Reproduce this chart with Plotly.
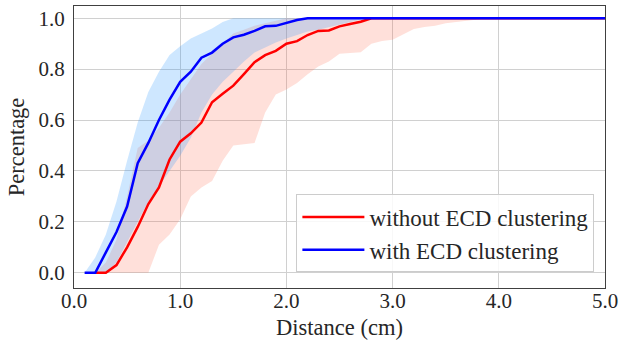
import plotly.graph_objects as go

# distances (cm)
dist_blue = [0.1, 0.2, 0.3, 0.4, 0.5, 0.6, 0.7, 0.8, 0.9, 1.0,
             1.1, 1.2, 1.3, 1.4, 1.5, 1.6, 1.7, 1.8, 1.9, 2.0,
             2.1, 2.2, 2.3, 2.4, 2.5, 2.6, 2.7, 2.8, 2.9, 3.0,
             3.1, 3.2, 3.3, 3.4, 3.5, 3.6, 3.7, 3.8, 3.9, 4.0, 5.0]
dist_red = [0.2, 0.3, 0.4, 0.5, 0.6, 0.7, 0.8, 0.9, 1.0,
            1.1, 1.2, 1.3, 1.4, 1.5, 1.6, 1.7, 1.8, 1.9, 2.0,
            2.1, 2.2, 2.3, 2.4, 2.5, 2.6, 2.7, 2.8, 2.9, 3.0,
            3.1, 3.2, 3.3, 3.4, 3.5, 3.6, 3.7, 3.8, 3.9, 4.0, 5.0]

# with ECD clustering
blue_mean = [0.0, 0.0, 0.08, 0.16, 0.26, 0.43, 0.51, 0.60, 0.68, 0.75,
             0.79, 0.845, 0.865, 0.90, 0.925, 0.935, 0.95, 0.968, 0.97, 0.983,
             0.993, 1.0, 1.0, 1.0, 1.0, 1.0, 1.0, 1.0, 1.0, 1.0,
             1.0, 1.0, 1.0, 1.0, 1.0, 1.0, 1.0, 1.0, 1.0, 1.0, 1.0]
blue_upper = [0.0, 0.06, 0.15, 0.28, 0.44, 0.59, 0.71, 0.79, 0.855, 0.89,
              0.92, 0.94, 0.96, 0.985, 1.0, 1.0, 1.0, 1.0, 1.0, 1.0,
              1.0, 1.0, 1.0, 1.0, 1.0, 1.0, 1.0, 1.0, 1.0, 1.0,
              1.0, 1.0, 1.0, 1.0, 1.0, 1.0, 1.0, 1.0, 1.0, 1.0, 1.0]
blue_lower = [0.0, 0.0, 0.0, 0.04, 0.12, 0.20, 0.28, 0.34, 0.40, 0.46,
              0.53, 0.63, 0.70, 0.75, 0.79, 0.83, 0.865, 0.885, 0.905, 0.92,
              0.935, 0.948, 0.955, 0.965, 0.975, 0.985, 0.995, 1.0, 1.0, 1.0,
              1.0, 1.0, 1.0, 1.0, 1.0, 1.0, 1.0, 1.0, 1.0, 1.0, 1.0]

# without ECD clustering
red_mean = [0.0, 0.0, 0.03, 0.10, 0.18, 0.27, 0.335, 0.445, 0.515,
            0.548, 0.59, 0.67, 0.703, 0.735, 0.78, 0.827, 0.855, 0.872, 0.90,
            0.91, 0.934, 0.95, 0.952, 0.968, 0.977, 0.986, 1.0, 1.0, 1.0,
            1.0, 1.0, 1.0, 1.0, 1.0, 1.0, 1.0, 1.0, 1.0, 1.0, 1.0]
red_upper = [0.0, 0.04, 0.13, 0.30, 0.49, 0.52, 0.57, 0.63, 0.70,
             0.76, 0.82, 0.86, 0.90, 0.94, 0.955, 0.97, 0.98, 0.99, 1.0,
             1.0, 1.0, 1.0, 1.0, 1.0, 1.0, 1.0, 1.0, 1.0, 1.0,
             1.0, 1.0, 1.0, 1.0, 1.0, 1.0, 1.0, 1.0, 1.0, 1.0, 1.0]
red_lower = [0.0, 0.0, 0.0, 0.0, 0.0, 0.0, 0.11, 0.15, 0.21,
             0.30, 0.335, 0.36, 0.44, 0.50, 0.505, 0.51, 0.63, 0.70, 0.72,
             0.745, 0.78, 0.81, 0.83, 0.86, 0.863, 0.866, 0.90, 0.91, 0.915,
             0.938, 0.958, 0.965, 0.97, 0.98, 0.985, 0.99, 0.995, 1.0, 1.0, 1.0]

x_ticks = [0.0, 1.0, 2.0, 3.0, 4.0, 5.0]
y_ticks = [0.0, 0.2, 0.4, 0.6, 0.8, 1.0]

FONT = "Times New Roman, Liberation Serif, DejaVu Serif, serif"
TXT = "#262626"

fig = go.Figure()
# red band
fig.add_trace(go.Scatter(x=dist_red, y=red_lower, mode="lines", line=dict(width=0),
                         showlegend=False, hoverinfo="skip"))
fig.add_trace(go.Scatter(x=dist_red, y=red_upper, mode="lines", line=dict(width=0),
                         fill="tonexty", fillcolor="rgba(255,99,71,0.2)",
                         showlegend=False, hoverinfo="skip"))
# blue band
fig.add_trace(go.Scatter(x=dist_blue, y=blue_lower, mode="lines", line=dict(width=0),
                         showlegend=False, hoverinfo="skip"))
fig.add_trace(go.Scatter(x=dist_blue, y=blue_upper, mode="lines", line=dict(width=0),
                         fill="tonexty", fillcolor="rgba(30,144,255,0.22)",
                         showlegend=False, hoverinfo="skip"))
# mean lines
fig.add_trace(go.Scatter(x=dist_red, y=red_mean, mode="lines",
                         line=dict(color="#ff0000", width=2.5),
                         name="without ECD clustering"))
fig.add_trace(go.Scatter(x=dist_blue, y=blue_mean, mode="lines",
                         line=dict(color="#0000ff", width=2.5),
                         name="with ECD clustering"))

axis_common = dict(
    showgrid=True, gridcolor="#d0d0d0", gridwidth=1,
    showline=True, linecolor="#404040", linewidth=1.3, mirror=True,
    zeroline=False, ticks="",
    tickfont=dict(family=FONT, size=21, color=TXT),
    ticklabeloverflow="allow",
)
fig.update_xaxes(range=[0, 5], tickvals=x_ticks,
                 ticktext=[f"{v:.1f}" for v in x_ticks],
                 ticklabelstandoff=-6,
                 title=dict(text="Distance (cm)", font=dict(family=FONT, size=22.5, color=TXT),
                            standoff=6),
                 **axis_common)
fig.update_yaxes(range=[-0.06, 1.048], tickvals=y_ticks,
                 ticktext=[f"{v:.1f}" for v in y_ticks],
                 ticklabelstandoff=4,
                 title=dict(text="Percentage", font=dict(family=FONT, size=22.5, color=TXT),
                            standoff=7),
                 **axis_common)

fig.update_layout(
    width=623, height=345,
    margin=dict(l=74, r=13, t=5, b=57),
    paper_bgcolor="white", plot_bgcolor="white",
    font=dict(family=FONT, color=TXT),
    legend=dict(x=0.98, xanchor="right", y=0.055, yanchor="bottom",
                traceorder="normal",
                bgcolor="rgba(255,255,255,0.85)", bordercolor="#cccccc", borderwidth=1,
                font=dict(family=FONT, size=23, color=TXT),
                itemwidth=62, tracegroupgap=4),
)

fig.write_html("out.html")
